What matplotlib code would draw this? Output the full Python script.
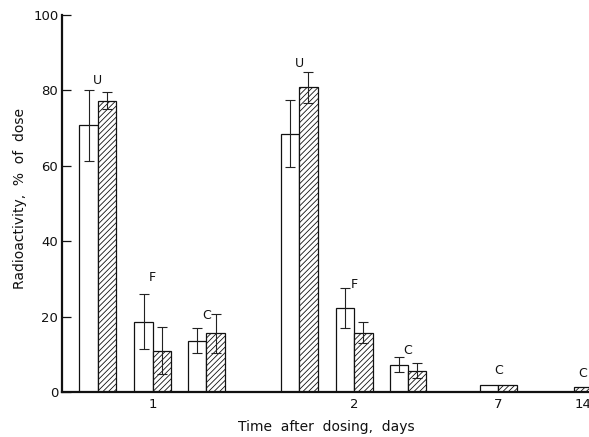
import numpy as np
import matplotlib
matplotlib.use("Agg")
import matplotlib.pyplot as plt

# ---- data -------------------------------------------------------------
days = ["1", "2", "7", "14"]
fractions = ["U", "F", "C", "U", "F", "C", "C", "C"]
fraction_day = [0, 0, 0, 1, 1, 1, 2, 3]
open_mean = [70.7, 18.7, 13.6, 68.5, 22.4, 7.2, 1.8, np.nan]
open_err = [9.4, 7.3, 3.3, 8.9, 5.3, 2.0, 0.0, np.nan]
hatched_mean = [77.3, 11.0, 15.6, 80.8, 15.7, 5.7, 1.8, 1.2]
hatched_err = [2.3, 6.3, 5.2, 4.1, 2.8, 1.9, 0.0, 0.0]

# ---- layout -----------------------------------------------------------
day_pos = [0.0, 3.733, 6.40, 7.969]
group_offset = [-1.02, 0.0, 0.995, -1.02, 0.0, 0.995, 0.0, 0.0]
label_y = [82.6, 30.4, 20.2, 87.2, 28.6, 11.1, 5.6, 5.0]
bar_w = 0.34

plt.rcParams["font.family"] = ["DejaVu Sans"]
plt.rcParams["hatch.linewidth"] = 0.6
plt.rcParams["hatch.color"] = "#5a5a5a"

fig = plt.figure(figsize=(5.89, 4.37), dpi=100)
ax = fig.add_axes([61.8 / 589, 45.0 / 437, 1 - 61.8 / 589, 377.0 / 437])

ink = "#111111"
err_kw = dict(fmt="none", ecolor="#222222", elinewidth=0.8, capsize=3.6,
              capthick=0.8, zorder=4)

for i, frac in enumerate(fractions):
    xc = day_pos[fraction_day[i]] + group_offset[i]
    has_open = not np.isnan(open_mean[i])
    if has_open:
        xo, xh = xc - bar_w / 2, xc + bar_w / 2
        ax.bar(xo, open_mean[i], width=bar_w, facecolor="white",
               edgecolor=ink, linewidth=0.9, zorder=2)
        if open_err[i] > 0:
            ax.errorbar(xo, open_mean[i], yerr=open_err[i], **err_kw)
    else:
        xh = xc
    ax.bar(xh, hatched_mean[i], width=bar_w, facecolor="white",
           edgecolor=ink, linewidth=0.9, hatch="//////", zorder=2)
    if hatched_err[i] > 0:
        ax.errorbar(xh, hatched_mean[i], yerr=hatched_err[i], **err_kw)
    ax.text(xc, label_y[i], frac, ha="center", va="center",
            fontsize=9, color=ink)

ax.set_xlim(-1.685, 8.08)
ax.set_ylim(0, 100)
ax.set_xticks(day_pos)
ax.set_xticklabels(days)
ax.set_yticks([0, 20, 40, 60, 80, 100])

for side in ("top", "right"):
    ax.spines[side].set_visible(False)
for side in ("left", "bottom"):
    ax.spines[side].set_linewidth(1.6)
    ax.spines[side].set_color(ink)

ax.tick_params(axis="y", direction="in", length=6.5, width=0.9, pad=2.5,
               labelsize=9.5, colors=ink)
ax.tick_params(axis="x", length=0, pad=4.5, labelsize=9.5, colors=ink)

ax.set_xlabel("Time  after  dosing,  days", fontsize=10, color=ink,
              va="baseline")
ax.xaxis.set_label_coords(0.5025, -0.1034)
ax.set_ylabel("Radioactivity,  %  of  dose", fontsize=10, color=ink,
              va="center", ha="center")
ax.yaxis.set_label_coords(-0.0793, 0.512)

fig.savefig("out.png", dpi=100)
